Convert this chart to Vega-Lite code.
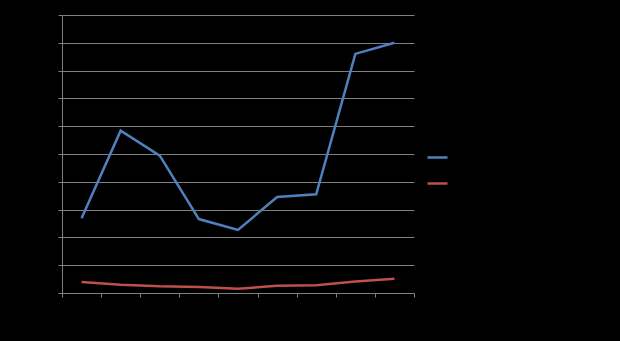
{
  "$schema": "https://vega.github.io/schema/vega-lite/v6.json",
  "width": 352,
  "height": 278,
  "autosize": {"type": "none"},
  "padding": {"left": 62, "top": 15, "right": 206, "bottom": 48},
  "background": "#000000",
  "config": {
    "view": {"stroke": null},
    "axis": {"labelColor": "#000000", "titleColor": "#000000", "domainColor": "#808080", "tickColor": "#808080", "gridColor": "#808080", "gridWidth": 1, "tickSize": 4, "domainWidth": 1}
  },
  "data": {
    "values": [
      {"cat": 1, "series": "Series1", "value": 2.69},
      {"cat": 2, "series": "Series1", "value": 5.84},
      {"cat": 3, "series": "Series1", "value": 4.94},
      {"cat": 4, "series": "Series1", "value": 2.66},
      {"cat": 5, "series": "Series1", "value": 2.27},
      {"cat": 6, "series": "Series1", "value": 3.45},
      {"cat": 7, "series": "Series1", "value": 3.55},
      {"cat": 8, "series": "Series1", "value": 8.6},
      {"cat": 9, "series": "Series1", "value": 9.0},
      {"cat": 1, "series": "Series2", "value": 0.4},
      {"cat": 2, "series": "Series2", "value": 0.3},
      {"cat": 3, "series": "Series2", "value": 0.24},
      {"cat": 4, "series": "Series2", "value": 0.22},
      {"cat": 5, "series": "Series2", "value": 0.15},
      {"cat": 6, "series": "Series2", "value": 0.26},
      {"cat": 7, "series": "Series2", "value": 0.28},
      {"cat": 8, "series": "Series2", "value": 0.41},
      {"cat": 9, "series": "Series2", "value": 0.51}
    ]
  },
  "mark": {"type": "line", "strokeWidth": 2.5},
  "encoding": {
    "x": {
      "field": "cat", "type": "quantitative",
      "scale": {"domain": [0.5, 9.5], "nice": false, "zero": false},
      "axis": {"title": null, "grid": false, "values": [0.5, 1.5, 2.5, 3.5, 4.5, 5.5, 6.5, 7.5, 8.5, 9.5], "labels": false}
    },
    "y": {
      "field": "value", "type": "quantitative",
      "scale": {"domain": [0, 10], "nice": false},
      "axis": {"title": null, "values": [0,1,2,3,4,5,6,7,8,9,10], "labels": false, "grid": true}
    },
    "color": {
      "field": "series", "type": "nominal",
      "scale": {"domain": ["Series1", "Series2"], "range": ["#4F81BD", "#C0504D"]},
      "legend": {
        "title": null, "orient": "none", "legendX": 364, "legendY": 131,
        "symbolType": "stroke", "symbolSize": 400, "symbolStrokeWidth": 2.5,
        "labelColor": "#000000", "labelFontSize": 10, "rowPadding": 9
      }
    }
  }
}
